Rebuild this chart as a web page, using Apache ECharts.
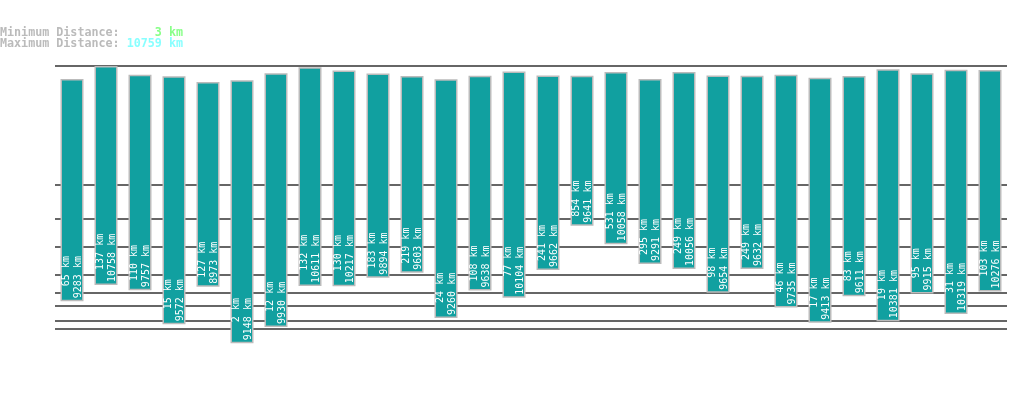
<!DOCTYPE html>
<html>
<head>
<meta charset="utf-8">
<script src="https://cdn.jsdelivr.net/npm/echarts@6/dist/echarts.min.js"></script>
<style>
  html, body { margin: 0; padding: 0; background: #fff; }
  #chart { width: 1019px; height: 402px; }
</style>
</head>
<body>
<div id="chart"></div>
<script>
// distances per bar, km
const categories = ['1', '2', '3', '4', '5', '6', '7', '8', '9', '10', '11', '12', '13', '14',
  '15', '16', '17', '18', '19', '20', '21', '22', '23', '24', '25', '26', '27', '28'];
const minDist = [65, 137, 110, 15, 127, 2, 12, 132, 130, 183, 219, 24, 108, 77,
  241, 854, 531, 295, 249, 98, 249, 46, 17, 83, 19, 95, 31, 103];
const maxDist = [9283, 10758, 9757, 9572, 8973, 9148, 9930, 10611, 10217, 9894, 9603, 9260, 9638, 10104,
  9662, 9641, 10058, 9291, 10056, 9654, 9632, 9735, 9413, 9611, 10381, 9915, 10319, 10276];
const overallMin = 3;
const overallMax = 10759;
// horizontal guide lines (km)
const guideValues = [10, 20, 50, 100, 200, 500, 1000, 2000, 10759];

// power scale, the original axis is compressed like this
const EXP = 0.3;
const scale = v => Math.pow(v, EXP);

const pad = (s, n) => ' '.repeat(Math.max(0, n - s.length)) + s;

const chart = echarts.init(document.getElementById('chart'));

const option = {
  animation: false,
  graphic: [
    {
      type: 'text',
      left: 0,
      top: 27,
      style: {
        text: '{k|Minimum Distance: }{a|' + pad(String(overallMin), 5) + ' km}\n' +
              '{k|Maximum Distance: }{b|' + pad(String(overallMax), 5) + ' km}',
        rich: {
          k: { fill: '#bbbbbb' },
          a: { fill: '#88ff88' },
          b: { fill: '#88ffff' }
        },
        font: 'bold 11.7px "DejaVu Sans Mono"',
        lineHeight: 11
      }
    }
  ],
  grid: {
    left: 55,
    right: 12,
    top: 66,
    bottom: 36
  },
  xAxis: {
    type: 'category',
    data: categories,
    axisLine: { show: false },
    axisTick: { show: false },
    axisLabel: { show: false },
    splitLine: { show: false }
  },
  yAxis: {
    type: 'value',
    min: 0,
    max: scale(overallMax),
    axisLine: { show: false },
    axisTick: { show: false, customValues: guideValues.map(v => scale(v)) },
    axisLabel: { show: false },
    splitLine: {
      show: true,
      lineStyle: { color: '#333333', width: 1.5 }
    }
  },
  series: [
    {
      name: 'base',
      type: 'bar',
      stack: 'd',
      barWidth: 23,
      silent: true,
      itemStyle: { color: 'transparent' },
      data: minDist.map(v => scale(v))
    },
    {
      name: 'range',
      type: 'bar',
      stack: 'd',
      barWidth: 23,
      itemStyle: {
        color: '#11a0a0',
        borderColor: '#bbbbbb',
        borderWidth: 1.5
      },
      label: {
        show: true,
        position: 'insideBottom',
        rotate: 90,
        align: 'left',
        verticalAlign: 'middle',
        distance: 3,
        color: '#ffffff',
        fontFamily: 'DejaVu Sans Mono',
        fontSize: 10,
        lineHeight: 12,
        formatter(p) {
          const a = minDist[p.dataIndex] + ' km';
          const b = maxDist[p.dataIndex] + ' km';
          const n = Math.max(a.length, b.length);
          return pad(a, n) + '\n' + pad(b, n);
        }
      },
      data: maxDist.map((v, i) => scale(v) - scale(minDist[i]))
    }
  ]
};

chart.setOption(option);
</script>
</body>
</html>
